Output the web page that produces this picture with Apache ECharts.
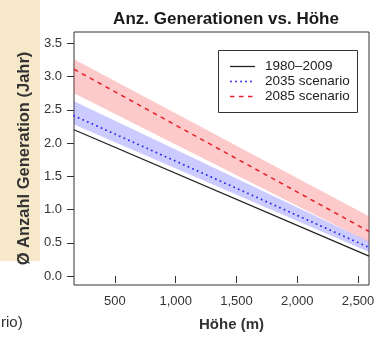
<!DOCTYPE html>
<html>
<head>
<meta charset="utf-8">
<script src="https://cdn.jsdelivr.net/npm/echarts@6/dist/echarts.min.js"></script>
<style>
  html, body { margin: 0; padding: 0; background: #ffffff; }
  #chart { width: 379px; height: 337px; }
</style>
</head>
<body>
<div id="chart"></div>
<script>
// ---- data ----
const heights = [163, 2590];              // Höhe (m) at the plot edges
const base1980 = [2.20, 0.30];            // 1980–2009
const s2035 = [2.41, 0.43];               // 2035 scenario
const s2035Lo = [2.28, 0.36];
const s2035Hi = [2.63, 0.52];
const s2085 = [3.11, 0.67];               // 2085 scenario
const s2085Lo = [2.75, 0.51];
const s2085Hi = [3.26, 0.90];
const xTicks = [500, 1000, 1500, 2000, 2500];
const yTicks = [0, 0.5, 1, 1.5, 2, 2.5, 3, 3.5];
const legendNames = ['1980\u20132009', '2035 scenario', '2085 scenario'];

const FONT = '"Liberation Sans", Arial, Helvetica, sans-serif';

function pairs(xs, ys) { return xs.map((x, i) => [x, ys[i]]); }
function bandData(xs, lo, hi) { return xs.map((x, i) => [x, lo[i], hi[i]]); }
function bandSeries(lo, hi, fill) {
  return {
    type: 'custom',
    data: bandData(heights, lo, hi),
    encode: { x: 0, y: [1, 2] },
    silent: true,
    z: 1,
    renderItem: function (params, api) {
      if (params.dataIndex !== 0) return;
      const pts = [];
      for (let i = 0; i < heights.length; i++) pts.push(api.coord([heights[i], hi[i]]));
      for (let i = heights.length - 1; i >= 0; i--) pts.push(api.coord([heights[i], lo[i]]));
      return { type: 'polygon', shape: { points: pts }, style: { fill: fill } };
    }
  };
}

const chart = echarts.init(document.getElementById('chart'), null, { renderer: 'canvas' });
chart.setOption({
  animation: false,
  backgroundColor: '#ffffff',
  textStyle: { fontFamily: FONT },
  title: {
    text: 'Anz. Generationen vs. Höhe',
    left: 221, top: 6, textAlign: 'center',
    textStyle: { fontFamily: FONT, fontSize: 17, fontWeight: 'bold', color: '#1a1a1a' }
  },
  grid: {
    left: 74, right: 10, top: 32, bottom: 51,
    show: true, borderColor: '#333', borderWidth: 1, backgroundColor: 'transparent'
  },
  xAxis: {
    type: 'value', min: heights[0], max: heights[heights.length - 1],
    name: 'Höhe (m)', nameLocation: 'middle', nameGap: 32,
    nameTextStyle: { fontFamily: FONT, fontSize: 15, fontWeight: 'bold', color: '#333', padding: [0, 0, 0, 20] },
    axisLine: { show: false },
    splitLine: { show: false },
    axisTick: { show: true, length: 7, customValues: xTicks, lineStyle: { color: '#333' } },
    axisLabel: {
      customValues: xTicks, margin: 10, fontSize: 13, color: '#333', fontFamily: FONT,
      formatter: v => v.toLocaleString('en-US')
    }
  },
  yAxis: {
    type: 'value', min: -0.135, max: 3.67,
    name: 'Ø Anzahl Generation (Jahr)', nameLocation: 'middle', nameGap: 38, nameRotate: 90,
    nameTextStyle: { fontFamily: FONT, fontSize: 16.5, fontWeight: 'bold', color: '#333' },
    axisLine: { show: false },
    splitLine: { show: false },
    axisTick: { show: true, length: 7, customValues: yTicks, lineStyle: { color: '#333' } },
    axisLabel: {
      customValues: yTicks, margin: 12, fontSize: 13, color: '#333', fontFamily: FONT,
      formatter: v => v.toFixed(1)
    }
  },
  series: [
    bandSeries(s2035Lo, s2035Hi, 'rgba(70,70,255,0.28)'),
    bandSeries(s2085Lo, s2085Hi, 'rgba(245,90,90,0.32)'),
    {
      type: 'line', name: legendNames[0], data: pairs(heights, base1980), symbol: 'none', z: 3,
      lineStyle: { color: '#222', width: 1.3 }
    },
    {
      type: 'line', name: legendNames[1], data: pairs(heights, s2035), symbol: 'none', z: 3,
      lineStyle: { color: '#2b2bea', width: 1.9, type: [0.01, 5], cap: 'round' }
    },
    {
      type: 'line', name: legendNames[2], data: pairs(heights, s2085), symbol: 'none', z: 3,
      lineStyle: { color: '#e8202a', width: 1.5, type: [4.5, 4.5] }
    }
  ],
  graphic: [
    { type: 'rect', z: 0, silent: true, shape: { x: 0, y: 0, width: 40, height: 261 },
      style: { fill: '#f6e8c9' } },
    { type: 'text', x: 1, y: 323, silent: true,
      style: { text: 'rio)', fontFamily: FONT, fontSize: 15, fill: '#333', verticalAlign: 'middle' } },
    { type: 'rect', z: 10, shape: { x: 218.5, y: 50.5, width: 139, height: 62 },
      style: { fill: '#fff', stroke: '#333', lineWidth: 1 } },
    { type: 'line', z: 11, shape: { x1: 230, y1: 66.5, x2: 255, y2: 66.5 },
      style: { stroke: '#222', lineWidth: 1.3 } },
    { type: 'line', z: 11, shape: { x1: 231, y1: 81.5, x2: 255, y2: 81.5 },
      style: { stroke: '#2b2bea', lineWidth: 1.9, lineDash: [0.01, 5], lineCap: 'round' } },
    { type: 'line', z: 11, shape: { x1: 230, y1: 96.5, x2: 256, y2: 96.5 },
      style: { stroke: '#e8202a', lineWidth: 1.5, lineDash: [4.5, 4.5] } },
    { type: 'text', z: 11, x: 265, y: 66.5,
      style: { text: legendNames[0], fontFamily: FONT, fontSize: 13.5, fill: '#222', verticalAlign: 'middle' } },
    { type: 'text', z: 11, x: 265, y: 81.5,
      style: { text: legendNames[1], fontFamily: FONT, fontSize: 13.5, fill: '#222', verticalAlign: 'middle' } },
    { type: 'text', z: 11, x: 265, y: 96.5,
      style: { text: legendNames[2], fontFamily: FONT, fontSize: 13.5, fill: '#222', verticalAlign: 'middle' } }
  ]
});
</script>
</body>
</html>
